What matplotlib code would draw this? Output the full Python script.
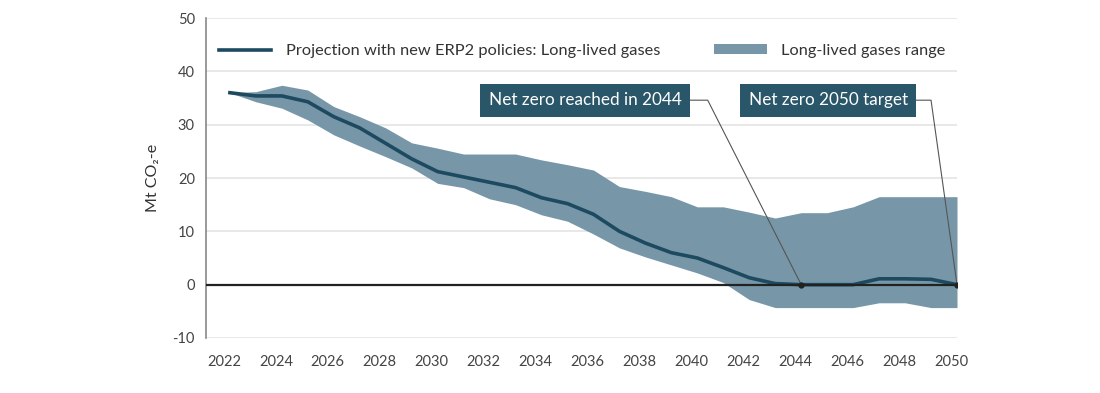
import matplotlib.pyplot as plt
import matplotlib.transforms as mtransforms
from matplotlib.patches import Patch
from matplotlib.lines import Line2D

years = list(range(2022, 2051))
projection = [36, 35.4, 35.4, 34.3, 31.5, 29.4, 26.5, 23.6, 21.2, 20.2, 19.2, 18.2, 16.3, 15.2, 13.2,
              10.0, 7.8, 6.0, 5.0, 3.2, 1.3, 0.2, 0, 0, 0, 1.1, 1.1, 1.0, 0]
range_high = [36, 36.2, 37.4, 36.5, 33.4, 31.5, 29.4, 26.6, 25.6, 24.5, 24.5, 24.5, 23.4, 22.5, 21.5,
              18.4, 17.5, 16.5, 14.6, 14.6, 13.6, 12.5, 13.5, 13.5, 14.6, 16.5, 16.5, 16.5, 16.5]
range_low = [36, 34.3, 33.1, 30.9, 28.1, 26.0, 24.0, 21.9, 19.0, 18.2, 16.1, 15.0, 13.1, 11.9, 9.5,
             6.9, 5.2, 3.7, 2.2, 0.4, -2.8, -4.3, -4.3, -4.3, -4.3, -3.4, -3.4, -4.3, -4.3]
yticks = [-10, 0, 10, 20, 30, 40, 50]
xticks = list(range(2022, 2051, 2))

LINE = '#1d4a60'
FILL = '#7797a8'
BOX = '#2a5669'
GREY = '#444444'

plt.rcParams['font.family'] = ['Lato', 'DejaVu Sans']
plt.rcParams['axes.unicode_minus'] = False

fig = plt.figure(figsize=(11, 3.93), dpi=100)
ax = fig.add_axes([0.1873, 0.14, 0.6827, 0.814])

ax.fill_between(years, range_low, range_high, color=FILL, linewidth=0, zorder=2)
ax.plot(years, projection, color=LINE, linewidth=2.6, zorder=3)
ax.axhline(0, color='#222222', linewidth=1.6, zorder=4)

ax.set_xlim(2021.08, 2050)
ax.set_ylim(-10, 50)
ax.set_yticks(yticks)
ax.set_xticks(xticks)
ax.set_xticklabels([str(x) for x in xticks])
ax.grid(axis='y', color='#e4e4e4', linewidth=1.2, zorder=0)
ax.set_axisbelow(True)
for s in ['top', 'right', 'bottom']:
    ax.spines[s].set_visible(False)
ax.spines['left'].set_color('#888888')
ax.spines['left'].set_linewidth(1.2)
ax.tick_params(length=0, labelsize=10.5, colors=GREY, pad=8)
ax.tick_params(axis='x', pad=12)
shift = mtransforms.ScaledTranslation(-6 / 100, 0, fig.dpi_scale_trans)
for lab in ax.get_xticklabels():
    lab.set_transform(lab.get_transform() + shift)
ax.set_ylabel('Mt CO₂-e', fontsize=11.5, color='#333333', labelpad=9)

# annotations: text, point year, box right edge, elbow year
notes = [('Net zero reached in 2044', 2044, 2039.4, 2040.4),
         ('Net zero 2050 target', 2050, 2048.1, 2049.0)]
for text, xp, xt, xelbow in notes:
    ax.plot([xt + 0.25, xelbow, xp], [34.6, 34.6, 0], color='#555555', linewidth=0.8, zorder=5)
    ax.plot([xp], [0], 'o', color='#222222', markersize=3.5, zorder=6)
    ax.text(xt, 34.6, text, ha='right', va='center', fontsize=12.3, color='white', zorder=7,
            bbox=dict(boxstyle='square,pad=0.5', facecolor=BOX, edgecolor='none'))

handles = [Line2D([0], [0], color=LINE, linewidth=2.6),
           Patch(facecolor=FILL, edgecolor='none')]
labels = ['Projection with new ERP2 policies: Long-lived gases', 'Long-lived gases range']
ax.legend(handles, labels, loc='upper left', bbox_to_anchor=(-0.003, 0.965), ncol=2, frameon=False,
          fontsize=11.8, labelcolor='#333333', handlelength=3.2, handleheight=0.6,
          columnspacing=3.3, handletextpad=0.9)

fig.savefig('out.png', dpi=100)
